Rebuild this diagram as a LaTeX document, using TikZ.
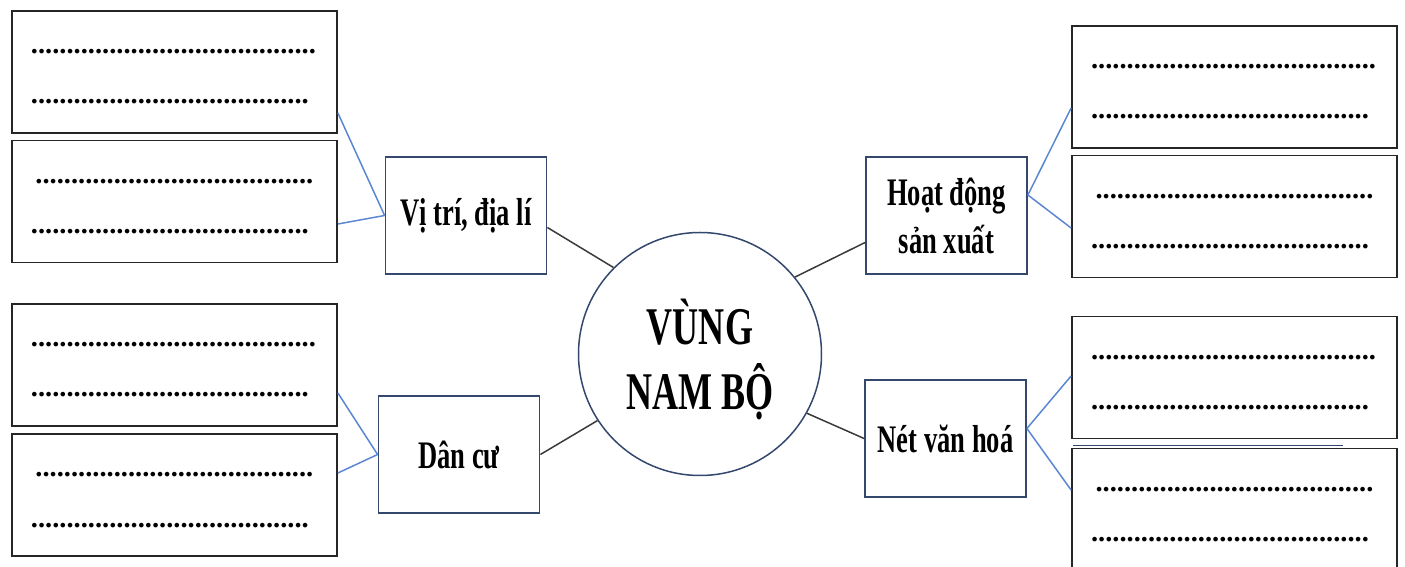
\documentclass[tikz,border=0pt]{standalone}
\usepackage{fontspec}
\setmainfont{Liberation Serif}
\newfontfamily\hepfont[FakeStretch=0.68]{Liberation Serif}
\usepackage{tikz}
\usetikzlibrary{shapes,arrows}
\definecolor{vien}{HTML}{34486E}
\definecolor{xanh}{HTML}{5B87D2}
\definecolor{den}{HTML}{3A3A3A}
\tikzstyle{circleVN} = [circle, draw=vien, line width=1.5pt, minimum size=243pt, text height=112pt, text depth=0pt, align=center, font=\hepfont\bfseries\fontsize{53}{65}\selectfont]
\tikzstyle{blockCH} = [rectangle, draw=vien, line width=1.8pt, minimum width=161pt, minimum height=117pt, align=center, font=\hepfont\bfseries\fontsize{39}{48}\selectfont]
\tikzstyle{blockDT} = [rectangle, draw=black!85, line width=1.8pt, minimum width=325pt, minimum height=122pt, text width=287pt, text height=7pt, text depth=43pt, inner sep=0pt, align=left, font=\bfseries\fontsize{28.5}{50}\selectfont]
\tikzstyle{line} = [draw=den, line width=1.5pt]
\tikzstyle{lineBL} = [draw=xanh, line width=1.5pt]

\begin{document}
\begin{tikzpicture}[x=1pt, y=1pt]
  \useasboundingbox (-700,354) rectangle (705,-213);

    % nodes
    \node [circleVN] (vung) {VÙNG\\NAM BỘ};
    \node [blockCH, left of = vung, node distance = 234pt, yshift=138.5pt] (vitri) {Vị trí, địa lí};
    \node [blockCH, left of = vung, node distance = 241pt, yshift=-100.5pt] (dancu) {Dân cư};
    \node [blockCH, right of = vung, node distance = 246.5pt, yshift=138.5pt] (hoatdong) {Hoạt động\\sản xuất};
    \node [blockCH, right of = vung, node distance = 245.5pt, yshift=-84.5pt] (vanhoa) {Nét văn hoá};

    % o de trong
    \node [blockDT, left of = vitri, node distance = 291.5pt, yshift=143.5pt] (vitri_a) {........................................\\.......................................};
    \node [blockDT, left of = vitri, node distance = 291.5pt, yshift=14pt] (vitri_b) {\hspace*{4.5pt}.......................................\\.......................................};
    \node [blockDT, left of = dancu, node distance = 284.5pt, yshift=89.5pt] (dancu_a) {........................................\\.......................................};
    \node [blockDT, left of = dancu, node distance = 284.5pt, yshift=-40.5pt] (dancu_b) {\hspace*{4.5pt}.......................................\\.......................................};
    \node [blockDT, right of = hoatdong, node distance = 288pt, yshift=128.5pt] (hoatdong_a) {........................................\\.......................................};
    \node [blockDT, right of = hoatdong, node distance = 288pt, yshift=-1pt] (hoatdong_b) {\hspace*{4.5pt}.......................................\\.......................................};
    \node [blockDT, right of = vanhoa, node distance = 289pt, yshift=61pt] (vanhoa_a) {........................................\\.......................................};
    \node [blockDT, right of = vanhoa, node distance = 289pt, yshift=-71pt] (vanhoa_b) {\hspace*{4.5pt}.......................................\\.......................................};

    % edges
    \path [line] ([yshift=-12pt]vitri.east) -- (vung.135);
    \path [line] (vung.39) -- ([yshift=-27pt]hoatdong.west);
    \path [line] (vung.213) -- (dancu.east);
    \path [line] (vung.331) -- (vanhoa.west);

    \path [lineBL] (vitri.west) -- ([yshift=-41pt]vitri_a.east);
    \path [lineBL] (vitri.west) -- ([yshift=-22.5pt]vitri_b.east);
    \path [lineBL] (dancu.west) -- ([yshift=-28pt]dancu_a.east);
    \path [lineBL] (dancu.west) -- ([yshift=22pt]dancu_b.east);
    \path [lineBL] ([yshift=20.5pt]hoatdong.east) -- ([yshift=-21pt]hoatdong_a.west);
    \path [lineBL] ([yshift=20.5pt]hoatdong.east) -- ([yshift=-11.5pt]hoatdong_b.west);
    \path [lineBL] ([yshift=10pt]vanhoa.east) -- ([yshift=1.5pt]vanhoa_a.west);
    \path [lineBL] ([yshift=10pt]vanhoa.east) -- ([yshift=19.5pt]vanhoa_b.west);

  % vet ke thua phia tren o cuoi
  \path [draw=vien, line width=1.2pt] ([xshift=2pt,yshift=1.8pt]vanhoa_b.north west) -- ([xshift=272pt,yshift=1.8pt]vanhoa_b.north west);

  \end{tikzpicture}
\end{document}
